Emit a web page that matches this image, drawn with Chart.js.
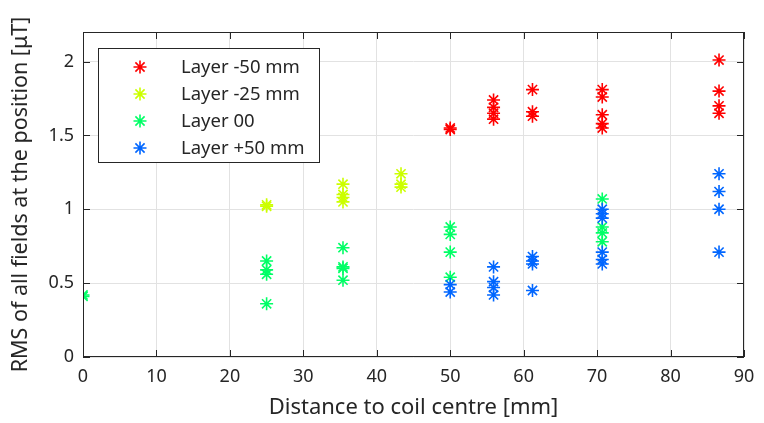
<!DOCTYPE html>
<html>
<head>
<meta charset="utf-8">
<script src="https://cdn.jsdelivr.net/npm/chart.js@4.4.1/dist/chart.umd.min.js"></script>
<style>
  html, body { margin: 0; padding: 0; background: #fff; }
  #wrap { width: 764px; height: 423px; }
</style>
</head>
<body>
<div id="wrap"><canvas id="cnv"></canvas></div>
<script>
// layer labels and colours
var layerNames = ['Layer -50 mm', 'Layer -25 mm', 'Layer 00', 'Layer +50 mm'];
var layerColors = ['#FF0000', '#CCFF00', '#00FF66', '#0066FF'];

// x = distance to coil centre [mm], y = RMS [uT]
var redX = [50, 50, 55.9, 55.9, 55.9, 55.9, 61.2, 61.2, 61.2, 70.7, 70.7, 70.7, 70.7, 70.7, 86.6, 86.6, 86.6, 86.6];
var redY = [1.55, 1.54, 1.74, 1.69, 1.65, 1.61, 1.81, 1.66, 1.63, 1.81, 1.76, 1.64, 1.58, 1.55, 2.01, 1.80, 1.70, 1.65];

var yellowX = [25, 25, 35.4, 35.4, 35.4, 35.4, 43.3, 43.3, 43.3];
var yellowY = [1.03, 1.02, 1.17, 1.10, 1.08, 1.05, 1.24, 1.17, 1.15];

var greenX = [0, 0, 25, 25, 25, 25, 35.4, 35.4, 35.4, 35.4, 50, 50, 50, 50, 70.7, 70.7, 70.7, 70.7];
var greenY = [0.42, 0.41, 0.65, 0.59, 0.56, 0.36, 0.74, 0.61, 0.60, 0.52, 0.88, 0.83, 0.71, 0.54, 1.07, 0.88, 0.84, 0.78];

var blueX = [50, 50, 55.9, 55.9, 55.9, 55.9, 61.2, 61.2, 61.2, 61.2, 70.7, 70.7, 70.7, 70.7, 70.7, 70.7, 86.6, 86.6, 86.6, 86.6];
var blueY = [0.49, 0.44, 0.61, 0.51, 0.47, 0.42, 0.68, 0.65, 0.63, 0.45, 1.00, 0.97, 0.94, 0.71, 0.66, 0.63, 1.24, 1.12, 1.00, 0.71];

var xTicks = [0, 10, 20, 30, 40, 50, 60, 70, 80, 90];
var yTicks = [0, 0.5, 1, 1.5, 2];

function pts(xs, ys) {
    var out = [];
    for (var i = 0; i < xs.length; i++) out.push({x: xs[i], y: ys[i]});
    return out;
}

var allX = [redX, yellowX, greenX, blueX];
var allY = [redY, yellowY, greenY, blueY];

var datasets = [];
for (var k = 0; k < 4; k++) {
    datasets.push({
        label: layerNames[k],
        data: pts(allX[k], allY[k]),
        pointStyle: 'star',
        pointRadius: 6.5,
        pointHoverRadius: 6.5,
        borderWidth: 1.6,
        borderColor: layerColors[k],
        backgroundColor: layerColors[k],
        order: 3 - k
    });
}

var axisCol = '#262626';
var fontFam = '"Noto Sans", "Open Sans", sans-serif';

// box, inward ticks and the legend box in the top left corner
var boxPlugin = {
    id: 'box',
    afterDatasetsDraw: function(chart) {
        var ctx = chart.ctx, a = chart.chartArea;
        var xs = chart.scales.x, ys = chart.scales.y;
        ctx.save();
        ctx.strokeStyle = axisCol;
        ctx.lineWidth = 1;
        ctx.strokeRect(a.left + 0.5, a.top + 0.5, a.right - a.left - 1, a.bottom - a.top - 1);
        ctx.beginPath();
        xTicks.forEach(function(v) {
            var p = Math.round(xs.getPixelForValue(v)) + 0.5;
            ctx.moveTo(p, a.bottom); ctx.lineTo(p, a.bottom - 7);
            ctx.moveTo(p, a.top); ctx.lineTo(p, a.top + 7);
        });
        yTicks.forEach(function(v) {
            var p = Math.round(ys.getPixelForValue(v)) + 0.5;
            ctx.moveTo(a.left, p); ctx.lineTo(a.left + 7, p);
            ctx.moveTo(a.right, p); ctx.lineTo(a.right - 7, p);
        });
        ctx.stroke();

        // legend
        var lx = 98, ly = 48, lw = 221, lh = 114;
        ctx.fillStyle = '#fff';
        ctx.fillRect(lx, ly, lw, lh);
        ctx.strokeStyle = axisCol;
        ctx.strokeRect(lx + 0.5, ly + 0.5, lw, lh);
        ctx.font = '18.5px ' + fontFam;
        ctx.textBaseline = 'middle';
        ctx.textAlign = 'left';
        var rows = [67, 94, 121, 148];
        for (var k = 0; k < 4; k++) {
            ctx.lineWidth = 1.6;
            ctx.strokeStyle = layerColors[k];
            Chart.helpers.drawPoint(ctx, {pointStyle: 'star', radius: 6.5, borderWidth: 1.6}, 140, rows[k]);
            ctx.fillStyle = axisCol;
            ctx.fillText(layerNames[k], 181, rows[k] + 1);
        }
        ctx.restore();
    }
};

new Chart(document.getElementById('cnv'), {
    type: 'scatter',
    data: { datasets: datasets },
    plugins: [boxPlugin],
    options: {
        responsive: true,
        maintainAspectRatio: false,
        animation: false,
        layout: { padding: { top: 32, right: 20, left: 0, bottom: 0 } },
        plugins: { legend: { display: false }, tooltip: { enabled: false } },
        scales: {
            x: {
                type: 'linear',
                min: 0, max: 90,
                afterBuildTicks: function(s) { s.ticks = xTicks.map(function(v) { return {value: v}; }); },
                afterFit: function(s) { s.height = 66; },
                grid: { color: '#e2e2e2', drawTicks: false },
                border: { display: false },
                ticks: { color: axisCol, padding: 9, font: { family: fontFam, size: 18 }, maxRotation: 0,
                         callback: function(v) { return String(v); } },
                title: { display: true, text: 'Distance to coil centre [mm]', color: axisCol,
                         font: { family: fontFam, size: 22 }, padding: { top: 0, bottom: 2 } }
            },
            y: {
                type: 'linear',
                min: 0, max: 2.2,
                afterBuildTicks: function(s) { s.ticks = yTicks.map(function(v) { return {value: v}; }); },
                afterFit: function(s) { s.width = 83; },
                grid: { color: '#e2e2e2', drawTicks: false },
                border: { display: false },
                ticks: { color: axisCol, padding: 9, font: { family: fontFam, size: 18 },
                         callback: function(v) { return String(v); } },
                title: { display: true, text: 'RMS of all fields at the position [\u03bcT]', color: axisCol,
                         font: { family: fontFam, size: 21.5 }, padding: { top: 8, bottom: 4 } }
            }
        }
    }
});
</script>
</body>
</html>
